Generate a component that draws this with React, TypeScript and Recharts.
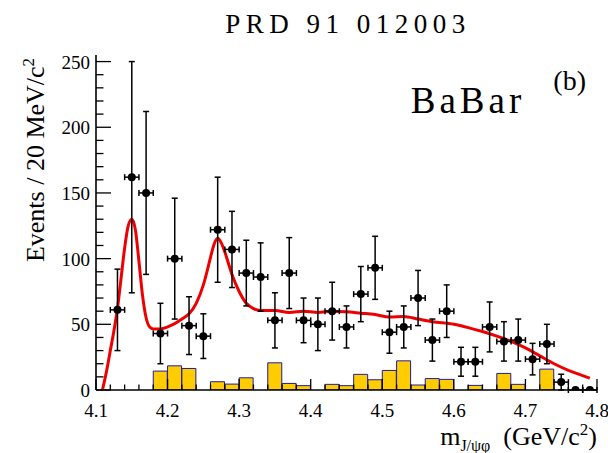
import React from "react";
import { ComposedChart, Bar, Line, Scatter, ErrorBar, XAxis, YAxis } from "recharts";

// data points: bin centres (GeV/c^2), events per bin and their errors
const massPoints = [
  4.13, 4.15, 4.17, 4.19, 4.21, 4.23, 4.25, 4.27, 4.29, 4.31, 4.33, 4.35,
  4.37, 4.39, 4.41, 4.43, 4.45, 4.47, 4.49, 4.51, 4.53, 4.55, 4.57, 4.59,
  4.61, 4.63, 4.65, 4.67, 4.69, 4.71, 4.73, 4.75, 4.77, 4.79,
];
const events = [
  61, 162, 150, 43, 100, 49, 41, 122, 107, 89, 86, 53,
  89, 53, 50, 60, 48, 73, 93, 44, 48, 70, 38, 60,
  21.5, 21.5, 48, 37, 38, 23.5, 35, 6, 0, 0,
];
const eventErrors = [
  31, 88, 62, 23, 46, 22, 17, 40, 29, 25, 26, 21,
  27, 17, 20, 22, 16, 21, 24, 16, 16, 21, 16, 20,
  11, 11, 19, 15, 16, 12, 15, 6, 0, 0,
];
const binHalfWidth = 0.01;

// background histogram (yellow), 35 bins of 20 MeV from 4.10 to 4.80
const bkgBins = [
  4.11, 4.13, 4.15, 4.17, 4.19, 4.21, 4.23, 4.25, 4.27, 4.29, 4.31, 4.33,
  4.35, 4.37, 4.39, 4.41, 4.43, 4.45, 4.47, 4.49, 4.51, 4.53, 4.55, 4.57,
  4.59, 4.61, 4.63, 4.65, 4.67, 4.69, 4.71, 4.73, 4.75, 4.77, 4.79,
];
const bkgEvents = [
  0, 0, 0, 0, 14.4, 18.4, 16.4, 0, 6.3, 4.5, 9.3, 0,
  20.7, 5, 3.3, 0, 4.3, 3.3, 11.9, 7.8, 14.9, 22.2, 3.8, 8.7,
  8.1, 0, 3.5, 0, 12.6, 4.3, 0, 15.9, 0, 0, 0,
];

// fit curve (red)
const fitMass = [
  4.109, 4.115, 4.12, 4.125, 4.13, 4.135, 4.14, 4.145, 4.15, 4.155, 4.16, 4.165,
  4.17, 4.175, 4.18, 4.19, 4.2, 4.21, 4.22, 4.23, 4.24, 4.25, 4.255, 4.26,
  4.265, 4.27, 4.275, 4.28, 4.29, 4.3, 4.31, 4.32, 4.33, 4.35, 4.37, 4.39,
  4.41, 4.43, 4.45, 4.47, 4.49, 4.51, 4.53, 4.55, 4.57, 4.6, 4.62, 4.64,
  4.66, 4.68, 4.7, 4.72, 4.74, 4.76, 4.78, 4.79,
];
const fitEvents = [
  0, 15, 30, 45, 62, 85, 108, 125, 130, 122, 98, 72,
  55, 48, 46.5, 46.5, 48, 50.5, 54, 58, 66, 80, 90, 101,
  111, 115.5, 112, 105, 88, 75, 66, 62, 60.6, 60.6, 59, 60,
  59, 60, 59.5, 58.5, 57.5, 55.5, 56, 54, 52, 50, 47.5, 44.5,
  41, 37, 32, 26, 20, 15, 11, 9,
];

const xMajorLabels = [4.1, 4.2, 4.3, 4.4, 4.5, 4.6, 4.7, 4.8];
const yMajorLabels = [0, 50, 100, 150, 200, 250];

const pointData = massPoints.map((m, i) => ({ m, n: events[i], dn: eventErrors[i], dm: binHalfWidth }));
const bkgData = bkgBins.map((m, i) => ({ m, bkg: bkgEvents[i] }));
const fitData = fitMass.map((m, i) => ({ m, fit: fitEvents[i] }));

const xTicks: number[] = [];
for (let i = 0; i <= 35; i++) xTicks.push(+(4.1 + i * 0.02).toFixed(2));
const yTicks: number[] = [];
for (let v = 0; v <= 250; v += 10) yTicks.push(v);

const isMajorX = (v: number) => xMajorLabels.some((t) => Math.abs(t - v) < 1e-6);
const isMajorY = (v: number) => yMajorLabels.includes(v);

const FONT = "'Liberation Serif', 'Times New Roman', serif";
const axisLine = { stroke: "#000", strokeWidth: 1.6 };

function BottomTick({ x, y, payload }: any) {
  const major = isMajorX(payload.value);
  return (
    <g>
      <line x1={x} x2={x} y1={y} y2={y - (major ? 11 : 5.5)} stroke="#000" strokeWidth={1.3} />
      {major && (
        <text x={x} y={y + 27} textAnchor="middle" fontSize={19} fontFamily={FONT} fill="#000">
          {payload.value.toFixed(1)}
        </text>
      )}
    </g>
  );
}

function TopTick({ x, y, payload }: any) {
  const major = isMajorX(payload.value);
  return <line x1={x} x2={x} y1={y} y2={y + (major ? 11 : 5.5)} stroke="#000" strokeWidth={1.3} />;
}

function LeftTick({ x, y, payload }: any) {
  const major = isMajorY(payload.value);
  return (
    <g>
      <line x1={x} x2={x + (major ? 15 : 7.5)} y1={y} y2={y} stroke="#000" strokeWidth={1.3} />
      {major && (
        <text x={x - 6} y={y + 7} textAnchor="end" fontSize={19} fontFamily={FONT} fill="#000">
          {payload.value}
        </text>
      )}
    </g>
  );
}

function RightTick({ x, y, payload }: any) {
  const major = isMajorY(payload.value);
  return <line x1={x} x2={x - (major ? 15 : 7.5)} y1={y} y2={y} stroke="#000" strokeWidth={1.3} />;
}

const Dot = (p: any) => <circle cx={p.cx} cy={p.cy} r={4} fill="#000" />;

export default function App() {
  return (
    <div style={{ position: "absolute", left: 0, top: 0, width: 608, height: 453, background: "#fff" }}>
      <ComposedChart
        width={608}
        height={453}
        data={bkgData}
        margin={{ top: 55, right: 11, bottom: 0, left: 0 }}
        barCategoryGap={0}
        barGap={0}
      >
        <XAxis
          xAxisId="mass"
          type="number"
          dataKey="m"
          domain={[4.1, 4.8]}
          allowDataOverflow
          ticks={xTicks}
          interval={0}
          height={63}
          tickSize={0}
          tickMargin={0}
          tick={<BottomTick />}
          tickLine={false}
          axisLine={axisLine}
        />
        <XAxis xAxisId="bins" type="category" dataKey="m" hide height={0} />
        <XAxis
          xAxisId="top"
          orientation="top"
          type="number"
          dataKey="m"
          domain={[4.1, 4.8]}
          allowDataOverflow
          ticks={xTicks}
          interval={0}
          height={0}
          tickSize={0}
          tickMargin={0}
          tick={<TopTick />}
          tickLine={false}
          axisLine={axisLine}
        />
        <YAxis
          yAxisId="left"
          type="number"
          domain={[0, 255]}
          allowDataOverflow
          ticks={yTicks}
          interval={0}
          width={96}
          tickSize={0}
          tickMargin={0}
          tick={<LeftTick />}
          tickLine={false}
          axisLine={axisLine}
        />
        <YAxis
          yAxisId="right"
          orientation="right"
          type="number"
          domain={[0, 255]}
          allowDataOverflow
          ticks={yTicks}
          interval={0}
          width={0}
          tickSize={0}
          tickMargin={0}
          tick={<RightTick />}
          tickLine={false}
          axisLine={axisLine}
        />
        <Bar
          xAxisId="bins"
          yAxisId="left"
          dataKey="bkg"
          fill="#ffcc00"
          stroke="#1c1ca8"
          strokeWidth={1}
          isAnimationActive={false}
        />
        <Line
          xAxisId="mass"
          yAxisId="left"
          data={fitData}
          dataKey="fit"
          type="monotone"
          stroke="#ee0000"
          strokeWidth={3}
          dot={false}
          activeDot={false}
          isAnimationActive={false}
        />
        <Scatter
          xAxisId="mass"
          yAxisId="left"
          data={pointData}
          dataKey="n"
          shape={Dot}
          isAnimationActive={false}
        >
          <ErrorBar dataKey="dn" direction="y" width={3} stroke="#000" strokeWidth={1.5} />
          <ErrorBar dataKey="dm" direction="x" width={3} stroke="#000" strokeWidth={1.5} />
        </Scatter>
      </ComposedChart>
      <svg
        width={608}
        height={453}
        style={{ position: "absolute", left: 0, top: 0, pointerEvents: "none" }}
        fontFamily={FONT}
        fill="#000"
      >
        <text x={348} y={33} textAnchor="middle" fontSize={27} letterSpacing={5.5}>
          PRD 91 012003
        </text>
        <text x={468} y={113} textAnchor="middle" fontSize={37} letterSpacing={4}>
          BaBar
        </text>
        <text x={586} y={90} textAnchor="end" fontSize={28}>
          (b)
        </text>
        <text transform="translate(44,160) rotate(-90)" textAnchor="middle" fontSize={26}>
          Events / 20 MeV/c<tspan dy={-10} fontSize={17}>2</tspan>
        </text>
        <text x={597} y={445} textAnchor="end" fontSize={26}>
          m<tspan dy={6} fontSize={16}>J/ψφ</tspan>
          <tspan dy={-6}>{"\u2002(GeV/c"}</tspan>
          <tspan dy={-10} fontSize={17}>2</tspan>
          <tspan dy={10}>)</tspan>
        </text>
      </svg>
    </div>
  );
}
